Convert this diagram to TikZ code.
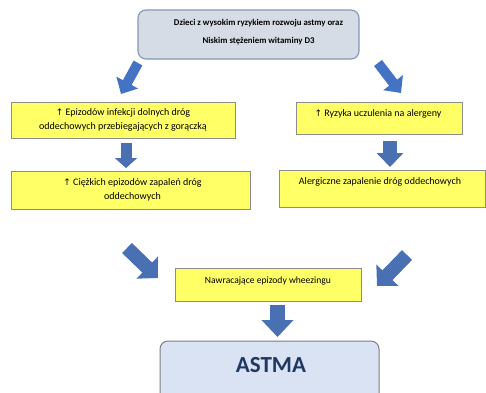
\documentclass[tikz,border=0pt]{standalone}
\usepackage{fontspec}
\setmainfont{Carlito}
\newfontfamily\symf{DejaVu Sans}
\usetikzlibrary{arrows.meta}
\definecolor{yfill}{HTML}{FFFF66}
\definecolor{yborder}{HTML}{8C8C8C}
\definecolor{topfill}{HTML}{D6DCE5}
\definecolor{topborder}{HTML}{8497B0}
\definecolor{astfill}{HTML}{DAE3F3}
\definecolor{astborder}{HTML}{7F7F7F}
\definecolor{asttext}{HTML}{1F3864}
\definecolor{arrtop}{HTML}{4472C4}
\definecolor{arrlow}{HTML}{4A70B4}
\newcommand\uparr{{\symf\fontsize{9}{14}\selectfont ↑}}
\begin{document}
\begin{tikzpicture}[x=1pt,y=-1pt,
  ybox/.style={draw=yborder, fill=yfill, line width=0.8pt, inner sep=0pt,
    align=center, font=\fontsize{10}{14}\selectfont},
  txt/.style={inner sep=0pt, align=center, font=\fontsize{10}{14}\selectfont},
  blk/.style n args={4}{draw=#1, line width=#2, -{Triangle[width=#3,length=#4]}}
]
\useasboundingbox (0,0) rectangle (486,392);
\clip (0,0) rectangle (486,392);
\fill[white] (0,0) rectangle (486,392);

% top box
\node[draw=topborder, fill=topfill, line width=1.1pt, rounded corners=8pt,
  minimum width=221pt, minimum height=49pt, inner sep=0pt] (top) at (248.5,34.5) {};
\node[inner sep=0pt, align=center, font=\bfseries\fontsize{8.8}{18}\selectfont]
  (toptxt) at (258.5,32.5) {Dzieci z wysokim ryzykiem rozwoju astmy oraz\\Niskim stężeniem witaminy D3};

% left column
\node[ybox, minimum width=224pt, minimum height=36pt] (l1) at (123,120)
  {\uparr\ Epizodów infekcji dolnych dróg\\oddechowych przebiegających z gorączką};
\node[ybox, minimum width=239pt, minimum height=38pt] (l2) at (130.5,190) {};
\node[txt] (l2t) at (132.5,190) {\uparr\ Ciężkich epizodów zapaleń dróg\\oddechowych};

% right column
\node[ybox, minimum width=166pt, minimum height=32pt] (r1) at (379,118) {};
\node[txt] (r1t) at (378,114) {\uparr\ Ryzyka uczulenia na alergeny};
\node[ybox, minimum width=206pt, minimum height=37pt] (r2) at (382,188.5) {};
\node[txt] (r2t) at (380,182) {Alergiczne zapalenie dróg oddechowych};

% wheezing
\node[ybox, minimum width=186pt, minimum height=33pt] (w) at (268,284.5) {};
\node[txt, font=\fontsize{9.6}{14}\selectfont] (wt) at (268,281) {Nawracające epizody wheezingu};

% ASTMA
\node[draw=astborder, fill=astfill, line width=1pt, rounded corners=8pt,
  minimum width=219pt, minimum height=62pt, inner sep=0pt] (ast) at (269.5,372) {};
\node[inner sep=0pt, text=asttext, font=\bfseries\fontsize{23}{26}\selectfont] (astt) at (271,365.5) {ASTMA};

% arrow end points
\coordinate (a1s) at (138,63);  \coordinate (a1e) at (121,94);
\coordinate (a2s) at (378,63);  \coordinate (a2e) at (401,93);
\coordinate (a3s) at (126,143); \coordinate (a3e) at (126,168);
\coordinate (a4s) at (390,141); \coordinate (a4e) at (390,167);
\coordinate (a5s) at (127,248); \coordinate (a5e) at (158,278);
\coordinate (a6s) at (407,255); \coordinate (a6e) at (377,286);
\coordinate (a7s) at (277.5,305); \coordinate (a7e) at (277.5,337);

\draw[blk={arrtop}{10pt}{24pt}{13pt}] (a1s) -- (a1e);
\draw[blk={arrtop}{10pt}{24pt}{13pt}] (a2s) -- (a2e);
\draw[blk={arrlow}{11pt}{22pt}{10pt}] (a3s) -- (a3e);
\draw[blk={arrlow}{14pt}{26pt}{14pt}] (a4s) -- (a4e);
\draw[blk={arrlow}{14pt}{30pt}{15pt}] (a5s) -- (a5e);
\draw[blk={arrlow}{14pt}{30pt}{15pt}] (a6s) -- (a6e);
\draw[blk={arrlow}{15pt}{31pt}{17pt}] (a7s) -- (a7e);
\end{tikzpicture}
\end{document}
